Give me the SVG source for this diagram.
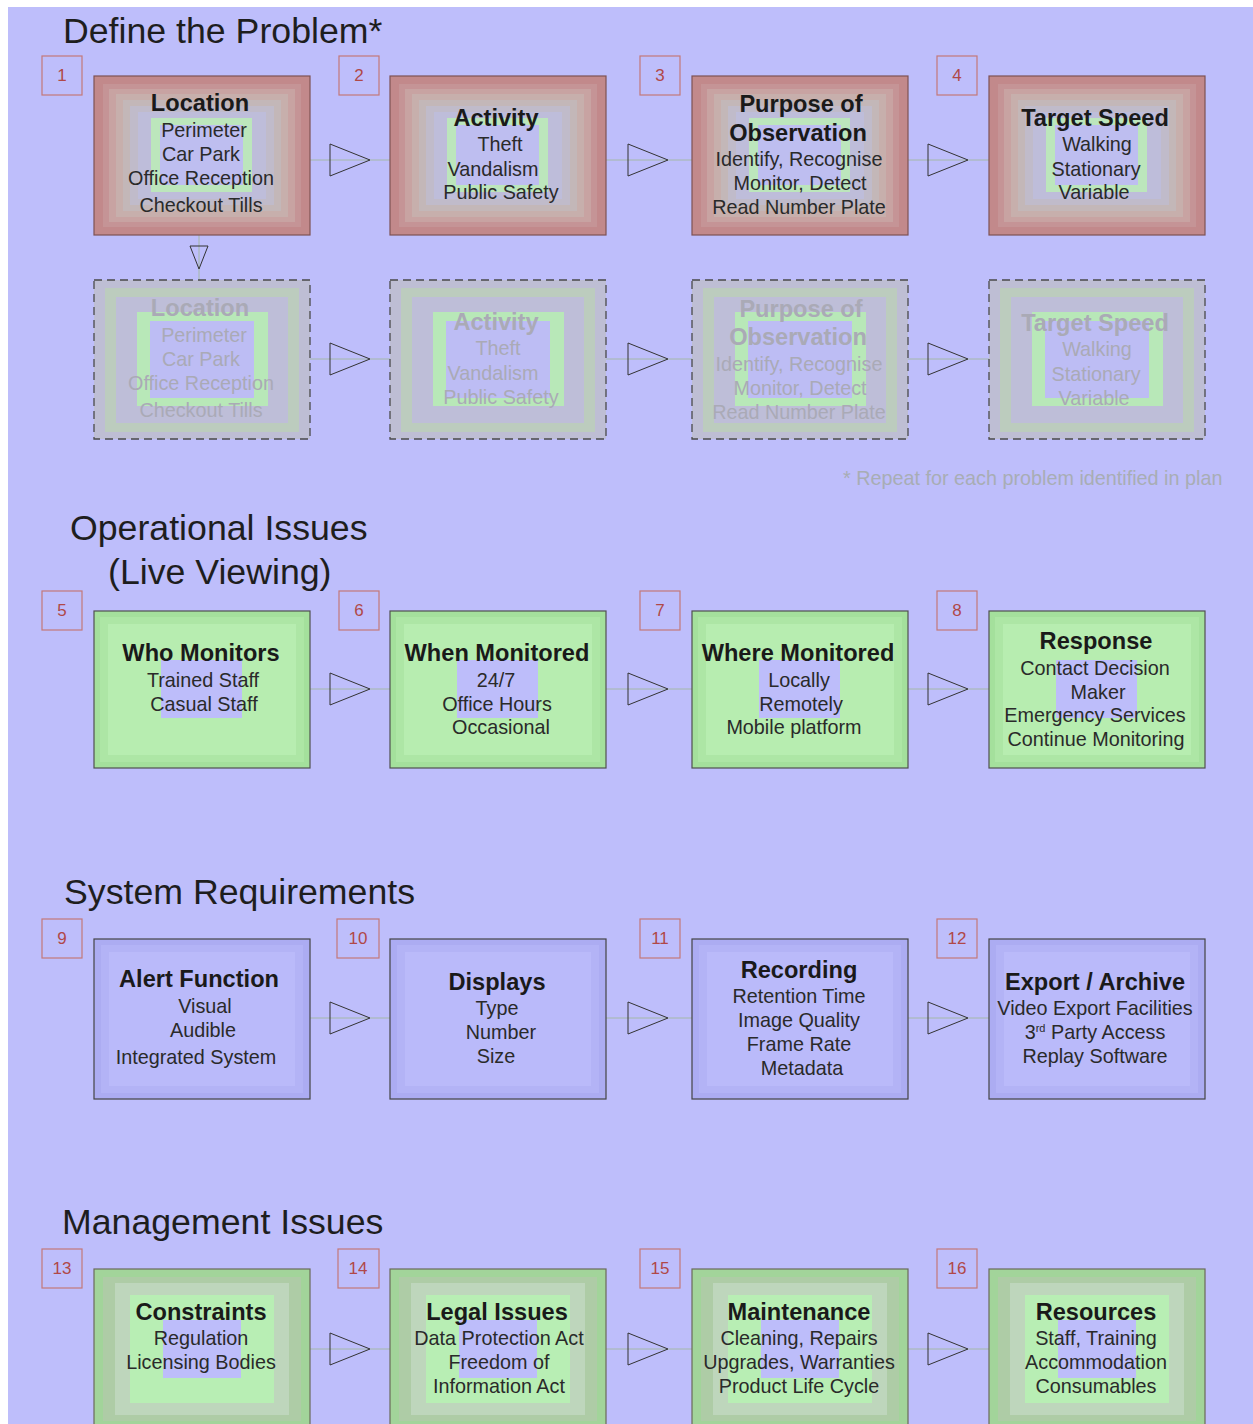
<svg xmlns="http://www.w3.org/2000/svg" xmlns:xlink="http://www.w3.org/1999/xlink" width="1253" height="1424" viewBox="0 0 1253 1424">
<style>
.title{font-family:"Liberation Sans",Arial,sans-serif;font-size:35.7px;fill:#1e1e1e}
.h{font-family:"Liberation Sans",Arial,sans-serif;font-size:23.6px;font-weight:bold;fill:#1a1a1a;text-anchor:middle}
.t{font-family:"Liberation Sans",Arial,sans-serif;font-size:19.8px;fill:#2a2a2a;text-anchor:middle}
.ghost .h,.ghost .t{fill:#AAAAB6}
.num{fill:none;stroke:#C47878;stroke-width:1.2}
.numt{font-family:"Liberation Sans",Arial,sans-serif;font-size:17px;fill:#B04848;text-anchor:middle}
.con{stroke:#A4B8A8;stroke-width:1;fill:none}
.tri{fill:none;stroke:#333;stroke-width:1}
.note{font-family:"Liberation Sans",Arial,sans-serif;font-size:19.8px;fill:#A8ADB4}
</style>
<defs>
<g id="redbox">
<rect x="0" y="0" width="216" height="159" fill="#C2898B" stroke="#7E5254" stroke-width="1.2"/>
<rect x="9" y="8" width="198" height="143" fill="#C59496"/>
<rect x="15" y="13" width="186" height="133" fill="#C8A3A2"/>
<rect x="22" y="18" width="172" height="123" fill="#C7AFAC"/>
<rect x="29" y="24" width="158" height="111" fill="#C3B7B8"/>
<rect x="36" y="30" width="144" height="99" fill="#C0BBCA"/>
<rect x="44" y="36" width="128" height="87" fill="#BEBDDA"/>
<rect x="57" y="42" width="101" height="74" fill="#BCE6BC"/>
<rect x="66" y="49" width="83" height="60" fill="#BEBEF0"/>
</g>
<g id="ghostbox">
<rect x="0" y="0" width="216" height="159" fill="#BEBED4" stroke="#4A4A4A" stroke-width="1.3" stroke-dasharray="8 5"/>
<rect x="11" y="8" width="194" height="144" fill="#BCCCBE"/>
<rect x="22" y="17" width="172" height="126" fill="#BEBED8"/>
<rect x="43" y="32" width="131" height="94" fill="#B8E8B8"/>
<rect x="56" y="41" width="104" height="77" fill="#BDBDF4"/>
</g>
<g id="greenbox">
<rect x="0" y="0" width="216" height="157" fill="#A4E09C" stroke="#505050" stroke-width="1.2"/>
<rect x="6" y="6" width="204" height="145" fill="#ADE6A5"/>
<rect x="14" y="13" width="188" height="131" fill="#B7EDB0"/>
<rect x="67" y="49" width="81" height="58" fill="#BDBDFA"/>
</g>
<g id="bluebox">
<rect x="0" y="0" width="216" height="160" fill="#ACACF2" stroke="#444" stroke-width="1.2"/>
<rect x="7" y="6" width="202" height="148" fill="#B3B3F6"/>
<rect x="15" y="13" width="186" height="134" fill="#BABAFA"/>
</g>
<g id="mgmtbox">
<rect x="0" y="0" width="216" height="160" fill="#A2D49A" stroke="#6A6A5A" stroke-width="1.2"/>
<rect x="9" y="8" width="198" height="144" fill="#AECCA6"/>
<rect x="21" y="14" width="174" height="132" fill="#BED6BC"/>
<rect x="36" y="26" width="144" height="108" fill="#B8EEB4"/>
<rect x="69" y="51" width="78" height="58" fill="#BDBDFA"/>
</g>
<path id="tri" d="M0,-16 L40,0 L0,16 Z"/>
</defs>

<rect x="0" y="0" width="1253" height="1424" fill="#FFFFFF"/>
<rect x="8" y="7" width="1245" height="1417" fill="#BEBEFB"/>

<text class="title" x="63" y="43">Define the Problem*</text>
<text class="title" x="70" y="540">Operational Issues</text>
<text class="title" x="108" y="584">(Live Viewing)</text>
<text class="title" x="64" y="904">System Requirements</text>
<text class="title" x="62" y="1234">Management Issues</text>
<text class="note" x="843" y="485">* Repeat for each problem identified in plan</text>

<g id="connectors">
<line class="con" x1="310" y1="160" x2="390" y2="160"/>
<line class="con" x1="606" y1="160" x2="692" y2="160"/>
<line class="con" x1="908" y1="160" x2="989" y2="160"/>
<line class="con" x1="199" y1="235" x2="199" y2="280"/>
<line class="con" x1="310" y1="359" x2="390" y2="359"/>
<line class="con" x1="606" y1="359" x2="692" y2="359"/>
<line class="con" x1="908" y1="359" x2="989" y2="359"/>
<line class="con" x1="310" y1="689" x2="390" y2="689"/>
<line class="con" x1="606" y1="689" x2="692" y2="689"/>
<line class="con" x1="908" y1="689" x2="989" y2="689"/>
<line class="con" x1="310" y1="1018" x2="390" y2="1018"/>
<line class="con" x1="606" y1="1018" x2="692" y2="1018"/>
<line class="con" x1="908" y1="1018" x2="989" y2="1018"/>
<line class="con" x1="310" y1="1349" x2="390" y2="1349"/>
<line class="con" x1="606" y1="1349" x2="692" y2="1349"/>
<line class="con" x1="908" y1="1349" x2="989" y2="1349"/>
<use href="#tri" class="tri" x="330" y="160"/>
<use href="#tri" class="tri" x="628" y="160"/>
<use href="#tri" class="tri" x="928" y="160"/>
<path class="tri" d="M190,246 L208,246 L199,269 Z"/>
<use href="#tri" class="tri" x="330" y="359"/>
<use href="#tri" class="tri" x="628" y="359"/>
<use href="#tri" class="tri" x="928" y="359"/>
<use href="#tri" class="tri" x="330" y="689"/>
<use href="#tri" class="tri" x="628" y="689"/>
<use href="#tri" class="tri" x="928" y="689"/>
<use href="#tri" class="tri" x="330" y="1018"/>
<use href="#tri" class="tri" x="628" y="1018"/>
<use href="#tri" class="tri" x="928" y="1018"/>
<use href="#tri" class="tri" x="330" y="1349"/>
<use href="#tri" class="tri" x="628" y="1349"/>
<use href="#tri" class="tri" x="928" y="1349"/>
</g>

<!-- Row 1 -->
<g id="node1" transform="translate(94,76)">
<rect class="num" x="-52" y="-20" width="40" height="39"/><text class="numt" x="-32" y="5">1</text>
<use href="#redbox"/>
<text class="h" x="106" y="35">Location</text>
<text class="t" x="110" y="61">Perimeter</text>
<text class="t" x="107" y="85">Car Park</text>
<text class="t" x="107" y="109">Office Reception</text>
<text class="t" x="107" y="136">Checkout Tills</text>
</g>
<g id="node2" transform="translate(390,76)">
<rect class="num" x="-51" y="-20" width="40" height="39"/><text class="numt" x="-31" y="5">2</text>
<use href="#redbox"/>
<text class="h" x="106" y="50">Activity</text>
<text class="t" x="110" y="75">Theft</text>
<text class="t" x="103" y="100">Vandalism</text>
<text class="t" x="111" y="123">Public Safety</text>
</g>
<g id="node3" transform="translate(692,76)">
<rect class="num" x="-52" y="-20" width="40" height="39"/><text class="numt" x="-32" y="5">3</text>
<use href="#redbox"/>
<text class="h" x="109" y="36">Purpose of</text>
<text class="h" x="106" y="65">Observation</text>
<text class="t" x="107" y="90">Identify, Recognise</text>
<text class="t" x="108" y="114">Monitor, Detect</text>
<text class="t" x="107" y="138">Read Number Plate</text>
</g>
<g id="node4" transform="translate(989,76)">
<rect class="num" x="-52" y="-20" width="40" height="39"/><text class="numt" x="-32" y="5">4</text>
<use href="#redbox"/>
<text class="h" x="106" y="50">Target Speed</text>
<text class="t" x="108" y="75">Walking</text>
<text class="t" x="107" y="100">Stationary</text>
<text class="t" x="105" y="123">Variable</text>
</g>

<!-- Row 2 (repeat, ghosted) -->
<g id="node1b" class="ghost" transform="translate(94,280)">
<use href="#ghostbox"/>
<text class="h" x="106" y="36">Location</text>
<text class="t" x="110" y="62">Perimeter</text>
<text class="t" x="107" y="86">Car Park</text>
<text class="t" x="107" y="110">Office Reception</text>
<text class="t" x="107" y="137">Checkout Tills</text>
</g>
<g id="node2b" class="ghost" transform="translate(390,280)">
<use href="#ghostbox"/>
<text class="h" x="106" y="50">Activity</text>
<text class="t" x="108" y="75">Theft</text>
<text class="t" x="103" y="100">Vandalism</text>
<text class="t" x="111" y="124">Public Safety</text>
</g>
<g id="node3b" class="ghost" transform="translate(692,280)">
<use href="#ghostbox"/>
<text class="h" x="109" y="37">Purpose of</text>
<text class="h" x="106" y="65">Observation</text>
<text class="t" x="107" y="91">Identify, Recognise</text>
<text class="t" x="108" y="115">Monitor, Detect</text>
<text class="t" x="107" y="139">Read Number Plate</text>
</g>
<g id="node4b" class="ghost" transform="translate(989,280)">
<use href="#ghostbox"/>
<text class="h" x="106" y="51">Target Speed</text>
<text class="t" x="108" y="76">Walking</text>
<text class="t" x="107" y="101">Stationary</text>
<text class="t" x="105" y="125">Variable</text>
</g>

<!-- Row 3 -->
<g id="node5" transform="translate(94,611)">
<rect class="num" x="-52" y="-20" width="40" height="39"/><text class="numt" x="-32" y="5">5</text>
<use href="#greenbox"/>
<text class="h" x="107" y="50">Who Monitors</text>
<text class="t" x="109" y="76">Trained Staff</text>
<text class="t" x="110" y="100">Casual Staff</text>
</g>
<g id="node6" transform="translate(390,611)">
<rect class="num" x="-51" y="-20" width="40" height="39"/><text class="numt" x="-31" y="5">6</text>
<use href="#greenbox"/>
<text class="h" x="107" y="50">When Monitored</text>
<text class="t" x="106" y="76">24/7</text>
<text class="t" x="107" y="100">Office Hours</text>
<text class="t" x="111" y="123">Occasional</text>
</g>
<g id="node7" transform="translate(692,611)">
<rect class="num" x="-52" y="-20" width="40" height="39"/><text class="numt" x="-32" y="5">7</text>
<use href="#greenbox"/>
<text class="h" x="106" y="50">Where Monitored</text>
<text class="t" x="107" y="76">Locally</text>
<text class="t" x="109" y="100">Remotely</text>
<text class="t" x="102" y="123">Mobile platform</text>
</g>
<g id="node8" transform="translate(989,611)">
<rect class="num" x="-52" y="-20" width="40" height="39"/><text class="numt" x="-32" y="5">8</text>
<use href="#greenbox"/>
<text class="h" x="107" y="38">Response</text>
<text class="t" x="106" y="64">Contact Decision</text>
<text class="t" x="109" y="88">Maker</text>
<text class="t" x="106" y="111">Emergency Services</text>
<text class="t" x="107" y="135">Continue Monitoring</text>
</g>

<!-- Row 4 -->
<g id="node9" transform="translate(94,939)">
<rect class="num" x="-52" y="-20" width="40" height="39"/><text class="numt" x="-32" y="5">9</text>
<use href="#bluebox"/>
<text class="h" x="105" y="48">Alert Function</text>
<text class="t" x="111" y="74">Visual</text>
<text class="t" x="109" y="98">Audible</text>
<text class="t" x="102" y="125">Integrated System</text>
</g>
<g id="node10" transform="translate(390,939)">
<rect class="num" x="-53" y="-20" width="42" height="39"/><text class="numt" x="-32" y="5">10</text>
<use href="#bluebox"/>
<text class="h" x="107" y="51">Displays</text>
<text class="t" x="107" y="76">Type</text>
<text class="t" x="111" y="100">Number</text>
<text class="t" x="106" y="124">Size</text>
</g>
<g id="node11" transform="translate(692,939)">
<rect class="num" x="-52" y="-20" width="40" height="39"/><text class="numt" x="-32" y="5">11</text>
<use href="#bluebox"/>
<text class="h" x="107" y="39">Recording</text>
<text class="t" x="107" y="64">Retention Time</text>
<text class="t" x="107" y="88">Image Quality</text>
<text class="t" x="107" y="112">Frame Rate</text>
<text class="t" x="110" y="136">Metadata</text>
</g>
<g id="node12" transform="translate(989,939)">
<rect class="num" x="-52" y="-20" width="40" height="39"/><text class="numt" x="-32" y="5">12</text>
<use href="#bluebox"/>
<text class="h" x="106" y="51">Export / Archive</text>
<text class="t" x="106" y="76">Video Export Facilities</text>
<text class="t" x="106" y="100">3<tspan font-size="11" dy="-7">rd</tspan><tspan dy="7"> Party Access</tspan></text>
<text class="t" x="106" y="124">Replay Software</text>
</g>

<!-- Row 5 -->
<g id="node13" transform="translate(94,1269)">
<rect class="num" x="-52" y="-20" width="40" height="39"/><text class="numt" x="-32" y="5">13</text>
<use href="#mgmtbox"/>
<text class="h" x="107" y="51">Constraints</text>
<text class="t" x="107" y="76">Regulation</text>
<text class="t" x="107" y="100">Licensing Bodies</text>
</g>
<g id="node14" transform="translate(390,1269)">
<rect class="num" x="-52" y="-20" width="41" height="39"/><text class="numt" x="-32" y="5">14</text>
<use href="#mgmtbox"/>
<text class="h" x="107" y="51">Legal Issues</text>
<text class="t" x="109" y="76">Data Protection Act</text>
<text class="t" x="109" y="100">Freedom of</text>
<text class="t" x="109" y="124">Information Act</text>
</g>
<g id="node15" transform="translate(692,1269)">
<rect class="num" x="-52" y="-20" width="40" height="39"/><text class="numt" x="-32" y="5">15</text>
<use href="#mgmtbox"/>
<text class="h" x="107" y="51">Maintenance</text>
<text class="t" x="107" y="76">Cleaning, Repairs</text>
<text class="t" x="107" y="100">Upgrades, Warranties</text>
<text class="t" x="107" y="124">Product Life Cycle</text>
</g>
<g id="node16" transform="translate(989,1269)">
<rect class="num" x="-52" y="-20" width="40" height="39"/><text class="numt" x="-32" y="5">16</text>
<use href="#mgmtbox"/>
<text class="h" x="107" y="51">Resources</text>
<text class="t" x="107" y="76">Staff, Training</text>
<text class="t" x="107" y="100">Accommodation</text>
<text class="t" x="107" y="124">Consumables</text>
</g>
</svg>
